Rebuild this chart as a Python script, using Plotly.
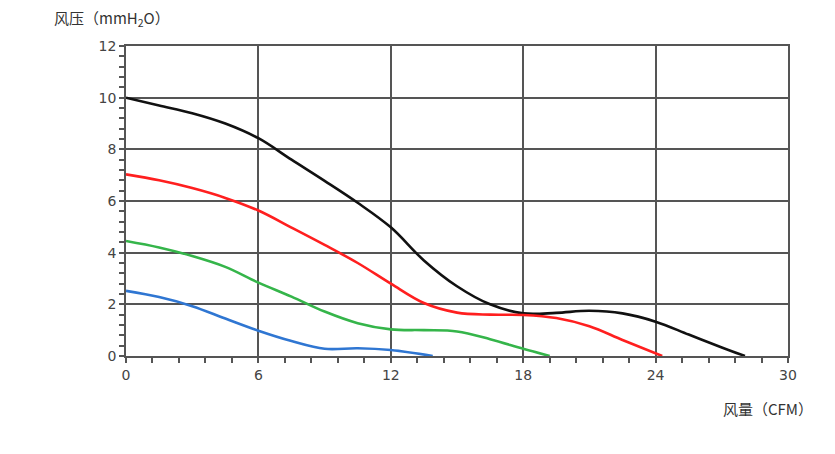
import plotly.graph_objects as go

# Airflow (CFM) / static pressure (mmH2O) curves
black_x = [0, 1.5, 3, 4.5, 6, 7.5, 9, 10.5, 12, 13.5, 15, 16.5, 18, 19.5, 21, 22.5, 24, 25.5, 27, 28.05]
black_y = [10, 9.7, 9.4, 9.0, 8.43, 7.6, 6.78, 5.93, 4.98, 3.7, 2.7, 2.0, 1.65, 1.67, 1.75, 1.65, 1.33, 0.83, 0.33, 0]

red_x = [0, 1.5, 3, 4.5, 6, 7.5, 9, 10.5, 12, 13.5, 15, 16.5, 18, 19.5, 21, 22.5, 24.3]
red_y = [7.03, 6.8, 6.5, 6.12, 5.63, 4.97, 4.3, 3.6, 2.8, 2.05, 1.68, 1.6, 1.59, 1.47, 1.15, 0.62, 0]

green_x = [0, 1.5, 3, 4.5, 6, 7.5, 9, 10.5, 12, 13.5, 15, 16.5, 18, 19.2]
green_y = [4.45, 4.2, 3.87, 3.45, 2.84, 2.3, 1.72, 1.27, 1.03, 1.0, 0.95, 0.65, 0.28, 0]

blue_x = [0, 1.5, 3, 4.5, 6, 7.5, 9, 10.5, 12, 13.9]
blue_y = [2.52, 2.28, 1.93, 1.45, 0.98, 0.58, 0.28, 0.3, 0.23, 0]

series = [
    (black_x, black_y, "#111111"),
    (red_x, red_y, "#ff1f1f"),
    (green_x, green_y, "#35b54a"),
    (blue_x, blue_y, "#2f76d2"),
]

x_ticks = [0, 6, 12, 18, 24, 30]
y_ticks = [0, 2, 4, 6, 8, 10, 12]

fig = go.Figure()
for xs, ys, col in series:
    fig.add_trace(go.Scatter(x=xs, y=ys, mode="lines",
                             line=dict(color=col, width=2.6, shape="spline", smoothing=1.0),
                             hoverinfo="skip", showlegend=False))

axis_common = dict(
    showgrid=True, gridcolor="#555555", gridwidth=1.5,
    showline=True, linecolor="#555555", linewidth=1.5, mirror=True,
    ticks="outside", ticklen=5, tickcolor="#555555", tickwidth=1.5,
    zeroline=False,
    tickfont=dict(family="DejaVu Sans", size=14, color="#444444"),
)

fig.update_xaxes(range=[0, 30], tickvals=x_ticks, ticktext=[str(v) for v in x_ticks],
                 minor=dict(dtick=1.2, tick0=0, ticks="outside", ticklen=5,
                            tickcolor="#555555", tickwidth=1.5, showgrid=False),
                 **axis_common)
fig.update_yaxes(range=[0, 12], tickvals=y_ticks, ticktext=[str(v) for v in y_ticks],
                 minor=dict(dtick=0.4, tick0=0, ticks="outside", ticklen=5,
                            tickcolor="#555555", tickwidth=1.5, showgrid=False),
                 **axis_common)

fig.add_annotation(text="风压（mmH<sub>2</sub>O）", xref="paper", yref="paper",
                   x=-0.112, y=1.09, xanchor="left", yanchor="middle", showarrow=False,
                   font=dict(family="Noto Sans CJK SC", size=15, color="#333333"))
fig.add_annotation(text="风量（CFM）", xref="paper", yref="paper",
                   x=1.041, y=-0.168, xanchor="right", yanchor="middle", showarrow=False,
                   font=dict(family="Noto Sans CJK SC", size=15, color="#333333"))

fig.update_layout(width=827, height=446,
                  margin=dict(l=118, r=47, t=38, b=98),
                  paper_bgcolor="white", plot_bgcolor="white")

fig.write_html("out.html")
